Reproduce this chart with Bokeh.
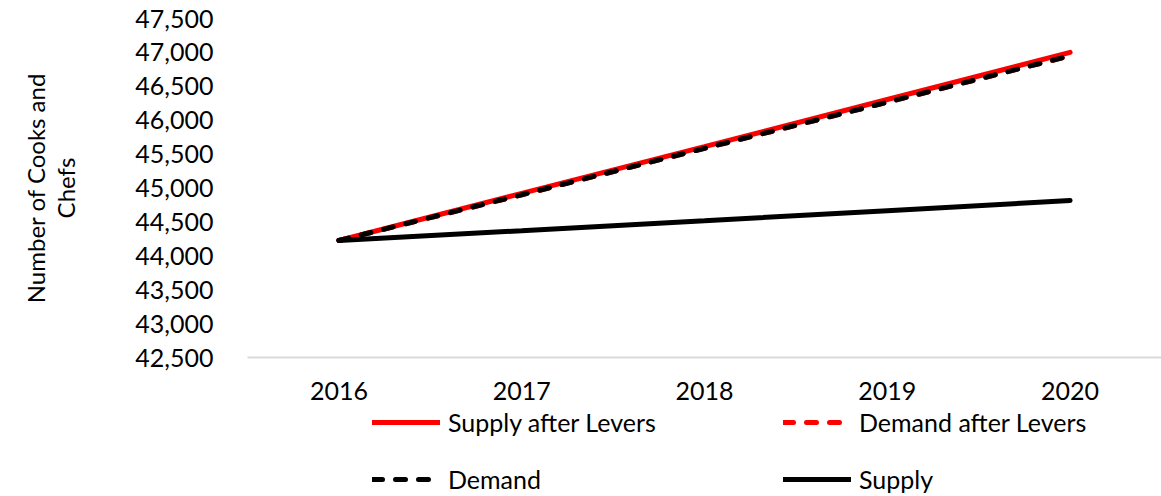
from bokeh.plotting import figure
from bokeh.models import FactorRange, Range1d, FixedTicker, NumeralTickFormatter, Legend, LegendItem
from bokeh.layouts import column
from bokeh.embed import file_html
from bokeh.resources import INLINE

years = ["2016", "2017", "2018", "2019", "2020"]
supply_after_levers = [44226, 44920, 45610, 46305, 47000]
demand_after_levers = [44226, 44900, 45585, 46265, 46950]
demand = [44226, 44900, 45585, 46265, 46950]
supply = [44226, 44370, 44517, 44665, 44816]
y_ticks = [42500, 43000, 43500, 44000, 44500, 45000, 45500, 46000, 46500, 47000, 47500]
series_names = ["Supply after Levers", "Demand after Levers", "Demand", "Supply"]

FONT = "Lato"
styles = [("#ff0000", "solid"), ("#ff0000", "10 13"), ("#000000", "10 13"), ("#000000", "solid")]

p = figure(x_range=FactorRange(*years, range_padding=0), y_range=Range1d(42500, 47500),
           width=1161, height=405, output_backend="svg", toolbar_location=None,
           min_border_left=247, min_border_top=18, min_border_right=0, min_border_bottom=48)
p.outline_line_color = None
p.xgrid.grid_line_color = None
p.ygrid.grid_line_color = None

for vals, (col, dash) in zip([supply_after_levers, demand_after_levers, demand, supply], styles):
    p.line(years, vals, line_color=col, line_width=5, line_dash=dash, line_cap="round")

yax = p.yaxis[0]
yax.ticker = FixedTicker(ticks=y_ticks)
yax.formatter = NumeralTickFormatter(format="0,0")
yax.axis_line_color = None
yax.major_tick_line_color = None
yax.minor_tick_line_color = None
yax.major_label_standoff = 28
yax.major_label_text_font = FONT
yax.major_label_text_font_size = "25px"
yax.major_label_text_color = "#000000"
yax.axis_label = "Number of Cooks and\nChefs"
yax.axis_label_text_font = FONT
yax.axis_label_text_font_size = "24px"
yax.axis_label_text_font_style = "normal"
yax.axis_label_text_color = "#000000"
yax.axis_label_text_line_height = 1.05
yax.axis_label_standoff = 52

xax = p.xaxis[0]
xax.axis_line_color = "#d9d9d9"
xax.axis_line_width = 2
xax.major_tick_line_color = None
xax.minor_tick_line_color = None
xax.major_label_standoff = 18
xax.major_label_text_font = FONT
xax.major_label_text_font_size = "25px"
xax.major_label_text_color = "#000000"

# legend strip
p2 = figure(x_range=Range1d(0, 1), y_range=Range1d(0, 1), width=1161, height=91,
            output_backend="svg", toolbar_location=None, x_axis_type=None, y_axis_type=None,
            min_border=0)
p2.outline_line_color = None
p2.xgrid.grid_line_color = None
p2.ygrid.grid_line_color = None
items = []
for name, (col, dash) in zip(series_names, styles):
    r = p2.line(x=[0.5], y=[-5], line_color=col, line_width=5, line_dash=dash, line_cap="round")
    items.append(LegendItem(label=name, renderers=[r]))

legend = Legend(items=items, location=(125, 2), orientation="horizontal", ncols=2,
                glyph_width=68, glyph_height=28, label_height=28, label_width=308, label_standoff=8,
                spacing=27, padding=0, margin=0, border_line_color=None, background_fill_alpha=0,
                label_text_font=FONT, label_text_font_size="25px", label_text_color="#000000")
p2.add_layout(legend, "center")

open("out.html", "w").write(file_html(column(p, p2, spacing=0), INLINE))
